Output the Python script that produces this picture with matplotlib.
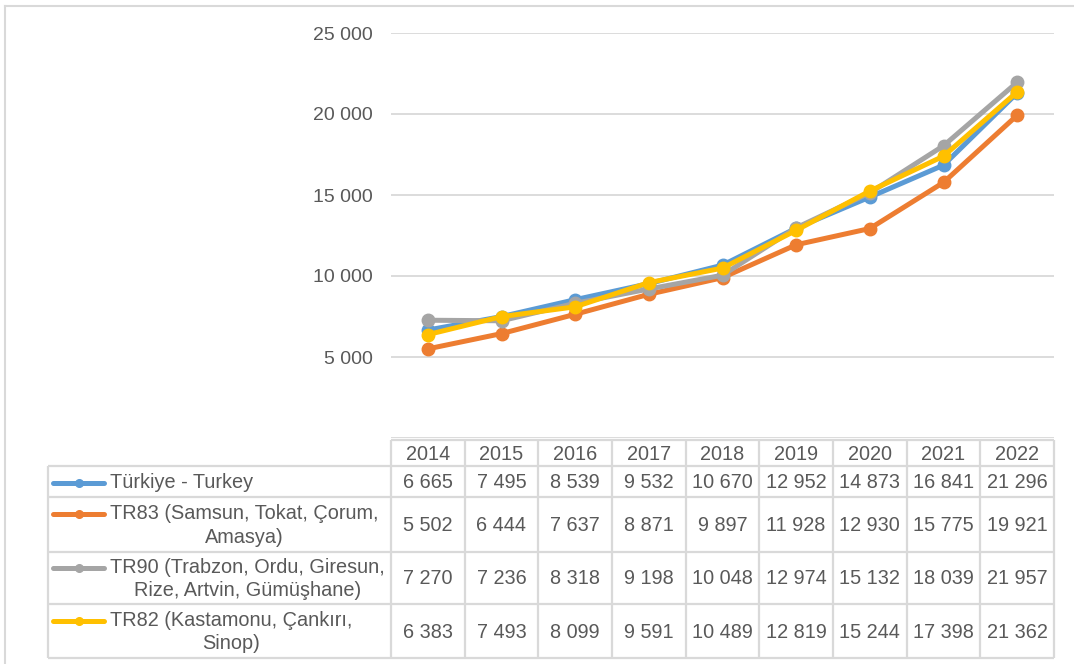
import matplotlib
matplotlib.use("Agg")
import matplotlib.pyplot as plt
from matplotlib.lines import Line2D
from matplotlib.ticker import FuncFormatter

plt.rcParams['font.family'] = ['Liberation Sans', 'DejaVu Sans']

years = ["2014", "2015", "2016", "2017", "2018", "2019", "2020", "2021", "2022"]
series_names = [
    "Türkiye - Turkey",
    "TR83 (Samsun, Tokat, Çorum,\nAmasya)",
    "TR90 (Trabzon, Ordu, Giresun,\nRize, Artvin, Gümüşhane)",
    "TR82 (Kastamonu, Çankırı,\nSinop)",
]
turkey = [6665, 7495, 8539, 9532, 10670, 12952, 14873, 16841, 21296]
tr83 = [5502, 6444, 7637, 8871, 9897, 11928, 12930, 15775, 19921]
tr90 = [7270, 7236, 8318, 9198, 10048, 12974, 15132, 18039, 21957]
tr82 = [6383, 7493, 8099, 9591, 10489, 12819, 15244, 17398, 21362]
series_values = [turkey, tr83, tr90, tr82]
colors = ["#5B9BD5", "#ED7D31", "#A5A5A5", "#FFC000"]
yticks = [0, 5000, 10000, 15000, 20000, 25000]

W, H = 1074, 664
TXT = "#595959"
GRID = "#D9D9D9"

def fmt(v):
    v = int(round(v))
    if v == 0:
        return ""
    return f"{v:,}".replace(",", " ")

fig = plt.figure(figsize=(W / 100, H / 100), dpi=100)

# pixel geometry
px_left, px_right = 391, 1054
px_top, px_bottom = 33, 438

ax = fig.add_axes([px_left / W, 1 - px_bottom / H, (px_right - px_left) / W, (px_bottom - px_top) / H])
x = list(range(len(years)))
for vals, c in zip(series_values, colors):
    ax.plot(x, vals, color=c, lw=3.6, marker="o", ms=9, solid_joinstyle="round", zorder=3)
ax.set_xlim(-0.5, len(years) - 0.5)
ax.set_ylim(0, 25000)
ax.set_yticks(yticks)
ax.yaxis.set_major_formatter(FuncFormatter(lambda v, p: fmt(v)))
ax.set_xticks([])
ax.grid(axis="y", color=GRID, lw=1.3)
ax.set_axisbelow(True)
for s in ax.spines.values():
    s.set_visible(False)
ax.tick_params(axis="y", length=0, pad=13, labelsize=14, labelcolor=TXT)

# overlay in pixel coordinates for data table and border
ov = fig.add_axes([0, 0, 1, 1], facecolor="none")
ov.set_xlim(0, W)
ov.set_ylim(H, 0)
ov.axis("off")

# outer chart border
ov.plot([5, 5], [6, H + 5], color=GRID, lw=1.5)
ov.plot([5, W + 5], [6, 6], color=GRID, lw=1.5)

col_w = (px_right - px_left) / len(years)
hdr_top, hdr_bot = 440, 466
row_edges = [466, 497, 552, 604, 658]
tab_left = 48
lc = dict(color=GRID, lw=1.6, solid_capstyle="butt")

# horizontal lines
ov.plot([px_left, px_right], [hdr_top, hdr_top], **lc)
for y in row_edges:
    ov.plot([tab_left, px_right], [y, y], **lc)
# vertical lines
for i in range(len(years) + 1):
    xx = px_left + i * col_w
    ov.plot([xx, xx], [hdr_top, row_edges[-1]], **lc)
ov.plot([tab_left, tab_left], [row_edges[0], row_edges[-1]], **lc)

fs = 14.3
for i, yr in enumerate(years):
    ov.text(px_left + (i + 0.5) * col_w, (hdr_top + hdr_bot) / 2 + 1, yr, ha="center", va="center",
            fontsize=fs, color=TXT)

for r, (name, vals, c) in enumerate(zip(series_names, series_values, colors)):
    y0, y1 = row_edges[r], row_edges[r + 1]
    yc = (y0 + y1) / 2 + 1
    nlines = name.count("\n") + 1
    key_y = yc if nlines == 1 else yc - 11.5
    ov.add_line(Line2D([53, 104], [key_y, key_y], color=c, lw=3.6, solid_capstyle="round"))
    ov.add_line(Line2D([78.5], [key_y], color=c, marker="o", ms=5.5, lw=0))
    ov.text(110, yc, name, ha="left", va="center", multialignment="center", fontsize=fs,
            color=TXT, linespacing=1.3)
    for i, v in enumerate(vals):
        ov.text(px_left + (i + 0.5) * col_w, yc, fmt(v), ha="center", va="center", fontsize=fs, color=TXT)

fig.savefig("out.png", dpi=100)
